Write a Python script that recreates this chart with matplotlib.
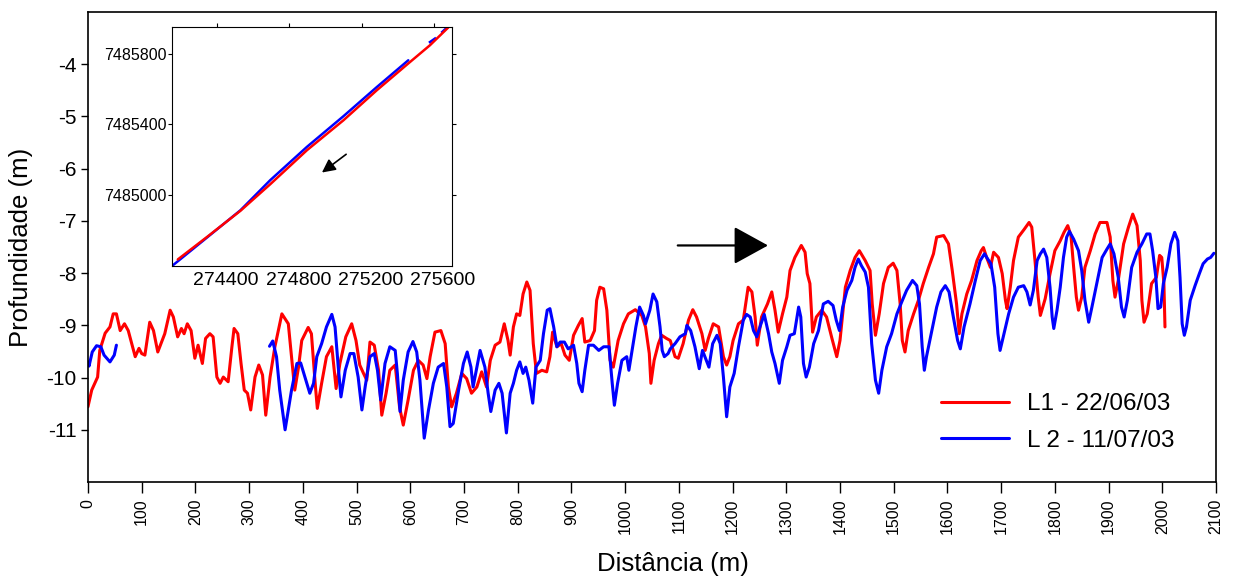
import matplotlib
matplotlib.use("Agg")
import matplotlib.pyplot as plt
from matplotlib.patches import ArrowStyle
from matplotlib.transforms import ScaledTranslation

plt.rcParams['font.family'] = ['Liberation Sans', 'DejaVu Sans']

# Survey line L1 (22/06/03): distance along profile (m) and depth (m)
l1_dist = [0, 7, 18, 22, 32, 41, 47, 53, 60, 68, 75, 88, 95, 100, 106, 115, 122, 130,
           137, 143, 153, 159, 167, 174, 179, 185, 192, 199, 205, 213, 219, 227, 233,
           240, 246, 252, 261, 268, 272, 279, 285, 291, 297, 303, 311, 318, 325, 331,
           339, 348, 361, 373, 379, 385, 392, 398, 410, 416, 423, 427, 435, 444, 454,
           462, 469, 480, 491, 499, 506, 513, 519, 525, 533, 541, 547, 555, 562, 572,
           580, 587, 596, 606, 615, 624, 631, 637, 646, 657, 665, 671, 677, 686, 696,
           705, 714, 724, 733, 742, 749, 758, 767, 775, 782, 786, 792, 798, 804, 810,
           817, 823, 829, 835, 845, 854, 860, 865, 873, 881, 888, 896, 904, 913, 920,
           925, 935, 943, 947, 953, 960, 966, 972, 978, 987, 997, 1006, 1019, 1031,
           1038, 1045, 1048, 1054, 1062, 1068, 1077, 1084, 1093, 1099, 1108, 1118,
           1126, 1133, 1143, 1149, 1155, 1164, 1174, 1183, 1189, 1195, 1201, 1211,
           1220, 1229, 1236, 1242, 1246, 1254, 1265, 1273, 1279, 1285, 1293, 1301,
           1307, 1316, 1328, 1335, 1339, 1344, 1349, 1356, 1366, 1375, 1385, 1394,
           1400, 1410, 1419, 1428, 1436, 1447, 1456, 1460, 1466, 1473, 1481, 1490,
           1499, 1506, 1512, 1516, 1521, 1527, 1537, 1546, 1555, 1565, 1574, 1580,
           1593, 1602, 1609, 1617, 1622, 1627, 1636, 1645, 1655, 1663, 1667, 1673,
           1680, 1686, 1695, 1702, 1708, 1711, 1717, 1723, 1732, 1743, 1752, 1757,
           1763, 1769, 1773, 1782, 1791, 1800, 1810, 1817, 1824, 1830, 1835, 1840,
           1844, 1850, 1856, 1866, 1875, 1884, 1897, 1903, 1908, 1912, 1918, 1928,
           1937, 1945, 1953, 1959, 1962, 1966, 1972, 1980, 1989, 1995, 1999, 2003,
           2005]
l1_depth = [-10.56, -10.24, -9.99, -9.48, -9.15, -9.03, -8.78, -8.78, -9.10, -8.97,
            -9.10, -9.60, -9.44, -9.54, -9.57, -8.94, -9.10, -9.51, -9.32, -9.16,
            -8.71, -8.84, -9.22, -9.06, -9.16, -8.97, -9.10, -9.63, -9.38, -9.73,
            -9.25, -9.16, -9.22, -9.99, -10.11, -9.99, -10.08, -9.41, -9.06, -9.16,
            -9.73, -10.24, -10.30, -10.62, -9.99, -9.76, -9.95, -10.72, -9.99, -9.41,
            -8.78, -8.97, -9.60, -10.24, -9.80, -9.29, -9.04, -9.16, -10.11, -10.59,
            -10.11, -9.60, -9.41, -10.21, -9.73, -9.22, -8.97, -9.29, -9.76, -9.92,
            -10.05, -9.32, -9.38, -9.86, -10.72, -10.30, -9.86, -9.76, -10.56, -10.91,
            -10.43, -9.86, -9.67, -9.76, -10.02, -9.60, -9.13, -9.10, -9.35, -10.18,
            -10.56, -10.30, -9.92, -10.02, -10.30, -10.18, -9.89, -10.18, -9.67, -9.38,
            -9.32, -8.97, -9.29, -9.57, -9.03, -8.78, -8.81, -8.40, -8.17, -8.33,
            -9.35, -9.92, -9.86, -9.89, -9.60, -9.13, -9.41, -9.35, -9.57, -9.67,
            -9.19, -9.00, -8.87, -9.32, -9.29, -9.10, -8.52, -8.27, -8.30, -8.71,
            -9.67, -9.80, -9.29, -8.97, -8.78, -8.70, -8.81, -9.03, -9.54, -10.11,
            -9.67, -9.35, -9.19, -9.25, -9.29, -9.60, -9.63, -9.35, -8.90, -8.70,
            -8.84, -9.16, -9.48, -9.25, -8.97, -9.03, -9.60, -9.76, -9.60, -9.29,
            -8.97, -8.90, -8.27, -8.36, -8.84, -9.38, -8.84, -8.59, -8.36, -8.71,
            -9.13, -8.78, -8.46, -7.95, -7.70, -7.47, -7.60, -8.01, -8.20, -9.13,
            -8.84, -8.71, -8.84, -9.25, -9.60, -9.29, -8.27, -7.95, -7.70, -7.57,
            -7.76, -7.95, -8.59, -9.19, -8.78, -8.20, -7.89, -7.81, -7.95, -8.59,
            -9.29, -9.51, -9.10, -8.78, -8.52, -8.20, -7.89, -7.63, -7.31, -7.28,
            -7.44, -7.95, -8.59, -9.16, -8.78, -8.40, -8.14, -7.76, -7.57, -7.51,
            -7.70, -7.89, -7.60, -7.70, -8.01, -8.52, -8.68, -8.27, -7.76, -7.31,
            -7.16, -7.03, -7.12, -7.76, -8.46, -8.81, -8.49, -8.01, -7.57, -7.38,
            -7.22, -7.09, -7.28, -7.89, -8.46, -8.71, -8.46, -7.89, -7.57, -7.25,
            -7.03, -7.03, -7.31, -8.14, -8.46, -8.14, -7.44, -7.12, -6.87, -7.09,
            -7.76, -8.52, -8.94, -8.78, -8.20, -8.08, -7.66, -7.70, -8.20, -9.03]

# Survey line L2 (11/07/03): first short stretch, then the main run
l2a_dist = [0, 2, 8, 16, 24, 30, 41, 49, 53]
l2a_depth = [-9.70, -9.78, -9.51, -9.39, -9.41, -9.57, -9.70, -9.57, -9.38]

l2b_dist = [338, 344, 351, 357, 367, 373, 379, 389, 396, 404, 413, 420, 426, 435, 444,
            454, 460, 466, 471, 479, 488, 495, 503, 510, 516, 525, 533, 539, 545, 553,
            562, 572, 576, 581, 587, 596, 605, 612, 618, 626, 634, 643, 652, 662, 668,
            674, 680, 690, 699, 706, 713, 717, 724, 730, 739, 745, 750, 758, 765, 771,
            779, 786, 792, 798, 804, 810, 815, 821, 828, 834, 842, 848, 855, 860, 867,
            873, 879, 887, 894, 904, 910, 914, 920, 925, 932, 941, 951, 960, 970, 976,
            980, 986, 994, 1003, 1007, 1012, 1020, 1027, 1034, 1038, 1046, 1052, 1059,
            1065, 1069, 1073, 1080, 1084, 1093, 1102, 1112, 1115, 1122, 1130, 1138,
            1144, 1151, 1156, 1163, 1171, 1177, 1183, 1189, 1195, 1203, 1211, 1220,
            1226, 1233, 1239, 1245, 1252, 1259, 1267, 1273, 1279, 1287, 1293, 1301,
            1307, 1315, 1323, 1327, 1332, 1337, 1343, 1351, 1360, 1369, 1378, 1387,
            1393, 1399, 1405, 1413, 1422, 1428, 1434, 1440, 1447, 1453, 1459, 1466,
            1472, 1478, 1487, 1496, 1506, 1515, 1524, 1535, 1543, 1548, 1553, 1557,
            1561, 1571, 1580, 1588, 1596, 1603, 1611, 1619, 1624, 1631, 1642, 1652,
            1661, 1669, 1675, 1681, 1688, 1694, 1698, 1704, 1714, 1723, 1732, 1742,
            1748, 1754, 1760, 1767, 1773, 1779, 1785, 1791, 1795, 1798, 1804, 1810,
            1816, 1822, 1827, 1835, 1844, 1850, 1856, 1863, 1869, 1878, 1888, 1897,
            1903, 1910, 1918, 1924, 1929, 1935, 1943, 1953, 1962, 1971, 1977, 1982,
            1988, 1992, 1997, 2002, 2009, 2016, 2023, 2029, 2033, 2037, 2041, 2045,
            2052, 2061, 2069, 2076, 2084, 2090, 2096]
l2b_depth = [-9.40, -9.30, -9.60, -10.24, -11.00, -10.62, -10.24, -9.73, -9.72, -9.99,
             -10.30, -10.11, -9.60, -9.35, -9.03, -8.79, -9.03, -9.80, -10.37, -9.86,
             -9.54, -9.54, -9.99, -10.62, -10.18, -9.60, -9.54, -9.86, -10.43, -9.73,
             -9.41, -9.48, -9.92, -10.65, -10.05, -9.51, -9.31, -9.51, -10.05, -11.16,
             -10.62, -10.11, -9.80, -9.73, -10.18, -10.94, -10.88, -10.24, -9.73, -9.51,
             -9.80, -10.18, -9.80, -9.48, -9.80, -10.30, -10.65, -10.24, -10.11, -10.30,
             -11.06, -10.30, -10.11, -9.86, -9.70, -9.92, -9.80, -10.05, -10.49, -9.80,
             -9.67, -9.16, -8.71, -8.68, -9.03, -9.41, -9.32, -9.32, -9.45, -9.38,
             -9.73, -10.11, -10.27, -9.86, -9.38, -9.38, -9.48, -9.41, -9.41, -10.11,
             -10.53, -10.11, -9.67, -9.60, -9.86, -9.54, -9.03, -8.65, -8.81, -8.97,
             -8.71, -8.40, -8.55, -9.03, -9.48, -9.60, -9.54, -9.45, -9.35, -9.22,
             -9.16, -9.00, -9.10, -9.41, -9.83, -9.48, -9.67, -9.80, -9.35, -9.19,
             -9.35, -9.99, -10.75, -10.18, -9.92, -9.41, -8.90, -8.79, -8.84, -9.10,
             -9.22, -9.00, -8.79, -9.16, -9.51, -9.73, -10.11, -9.67, -9.41, -9.19,
             -9.16, -8.65, -8.84, -9.73, -9.99, -9.80, -9.35, -9.10, -8.59, -8.54,
             -8.62, -8.90, -9.10, -8.65, -8.33, -8.14, -7.89, -7.73, -7.86, -7.98,
             -8.27, -9.35, -10.05, -10.30, -9.86, -9.41, -9.16, -8.78, -8.55, -8.33,
             -8.14, -8.24, -8.59, -9.41, -9.86, -9.60, -9.10, -8.65, -8.36, -8.24,
             -8.36, -8.84, -9.29, -9.45, -9.03, -8.59, -8.14, -7.76, -7.63, -7.73,
             -7.82, -8.27, -9.16, -9.48, -9.22, -8.78, -8.46, -8.27, -8.24, -8.36,
             -8.61, -8.33, -7.76, -7.63, -7.54, -7.70, -8.27, -8.84, -9.06, -8.71,
             -8.27, -7.70, -7.31, -7.20, -7.35, -7.57, -7.95, -8.52, -8.94, -8.65,
             -8.20, -7.70, -7.54, -7.44, -7.63, -8.08, -8.65, -8.84, -8.52, -7.89,
             -7.60, -7.44, -7.25, -7.25, -7.57, -8.08, -8.68, -8.65, -8.20, -7.89,
             -7.44, -7.22, -7.38, -8.08, -8.97, -9.19, -9.03, -8.52, -8.24, -8.01,
             -7.82, -7.73, -7.70, -7.62]

# Track positions (UTM easting / northing) for the location inset
l1_east = [274182, 274345, 274529, 274694, 274897, 275099, 275284, 275458, 275578, 275679]
l1_north = [7484637, 7484765, 7484912, 7485062, 7485254, 7485423, 7485593, 7485744,
            7485847, 7485947]
l2_east = [274150, 274326, 274529, 274694, 274897, 275099, 275284, 275458]
l2_north = [7484600, 7484746, 7484915, 7485085, 7485273, 7485446, 7485611, 7485762]
l2_east_start = [[275578, 275606], [275646, 275672]]
l2_north_start = [[7485865, 7485885], [7485922, 7485947]]

x_ticks = list(range(0, 2101, 100))
y_ticks = [-4, -5, -6, -7, -8, -9, -10, -11]
inset_x_ticks = [274400, 274800, 275200, 275600]
inset_y_ticks = [7485000, 7485400, 7485800]

RED = '#ff0000'
BLUE = '#0000ff'
line_kw = dict(lw=2.2, solid_joinstyle='round', solid_capstyle='round')

fig = plt.figure(figsize=(12.44, 5.83), dpi=100)
ax = fig.add_axes([0.0707, 0.1732, 0.9068, 0.8062])

ax.plot(l1_dist, l1_depth, color=RED, label='L1 - 22/06/03', **line_kw)
ax.plot(l2b_dist, l2b_depth, color=BLUE, label='L 2 - 11/07/03', **line_kw)
ax.plot(l2a_dist, l2a_depth, color=BLUE, **line_kw)

ax.set_xlim(0, 2100)
ax.set_ylim(-12, -3)
ax.set_xticks(x_ticks)
ax.set_xticklabels([str(v) for v in x_ticks], rotation=90, fontsize=11.5)
ax.set_yticks(y_ticks)
ax.set_yticklabels([str(v) for v in y_ticks], fontsize=15)
ax.tick_params(axis='x', direction='out', length=8, width=1, pad=4)
ax.tick_params(axis='y', direction='out', length=5, width=1, pad=3)
for s in ax.spines.values():
    s.set_linewidth(1.2)

ax.set_xlabel('Distância (m)', fontsize=18.5)
ax.xaxis.set_label_coords(0.519, -0.148)
ax.set_ylabel('Profundidade (m)', fontsize=18.5)
ax.yaxis.set_label_coords(-0.049, 0.5)

# Direction of travel
ax.annotate('', xy=(1266, -7.47), xytext=(1098, -7.47),
            arrowprops=dict(arrowstyle=ArrowStyle('-|>', head_length=0.4, head_width=0.22),
                            mutation_scale=54, lw=1.6, color='black',
                            shrinkA=0, shrinkB=0))

leg = ax.legend(loc='lower right', bbox_to_anchor=(0.983, 0.018), frameon=False,
                fontsize=17.5, handlelength=2.8, handletextpad=0.75, labelspacing=0.6)

# Location inset
ins = fig.add_axes([172 / 1244, 1 - 266 / 583, 280 / 1244, 239 / 583])
ins.plot(l2_east, l2_north, color=BLUE, lw=1.8, solid_capstyle='round')
for e, n in zip(l2_east_start, l2_north_start):
    ins.plot(e, n, color=BLUE, lw=1.8)
ins.plot(l1_east, l1_north, color=RED, lw=1.8, solid_capstyle='round')
ins.set_xlim(274150, 275700)
ins.set_ylim(7484600, 7485950)
ins.set_xticks(inset_x_ticks)
ins.set_xticklabels([str(v) for v in inset_x_ticks], fontsize=14)
ins.set_yticks(inset_y_ticks)
ins.set_yticklabels([str(v) for v in inset_y_ticks], fontsize=11.5)
ins.tick_params(axis='x', bottom=False, top=True, labelbottom=True, direction='out',
                length=3, pad=1)
ins.tick_params(axis='y', left=True, right=True, labelleft=True, direction='out',
                length=3, pad=1)
shift = ScaledTranslation(9 / 100, 0, fig.dpi_scale_trans)
for lbl in ins.get_xticklabels():
    lbl.set_transform(lbl.get_transform() + shift)
ins.annotate('', xy=(274980, 7485128), xytext=(275114, 7485231),
             arrowprops=dict(arrowstyle=ArrowStyle('-|>', head_length=0.4, head_width=0.2),
                             mutation_scale=20, lw=1.2, color='black',
                             shrinkA=0, shrinkB=0))

fig.savefig('out.png', dpi=100)
